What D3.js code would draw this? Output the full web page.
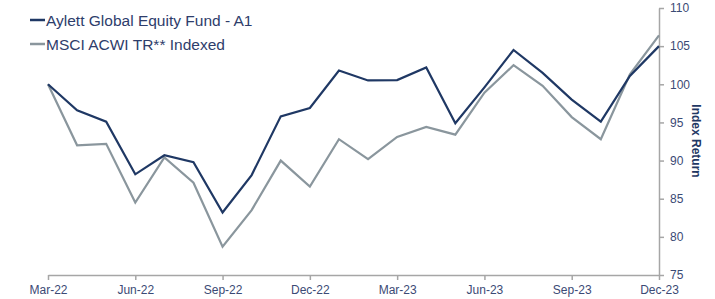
<!DOCTYPE html>
<html>
<head>
<meta charset="utf-8">
<script src="https://cdn.jsdelivr.net/npm/d3@7"></script>
<style>
  body { margin: 0; background: #fff; }
  svg { font-family: Arial, "Liberation Sans", sans-serif; }
</style>
</head>
<body>
<svg id="chart" width="715" height="299"></svg>
<script>
// months Mar-22 .. Dec-23
var months = ["Mar-22","Apr-22","May-22","Jun-22","Jul-22","Aug-22","Sep-22","Oct-22","Nov-22","Dec-22",
  "Jan-23","Feb-23","Mar-23","Apr-23","May-23","Jun-23","Jul-23","Aug-23","Sep-23","Oct-23","Nov-23","Dec-23"];
var fundValues = [100, 96.6, 95.1, 88.2, 90.7, 89.8, 83.2, 88.1, 95.8, 96.9,
  101.8, 100.5, 100.55, 102.2, 94.9, 99.6, 104.5, 101.5, 98.0, 95.1, 101.1, 105.0];
var msciValues = [100, 92.0, 92.2, 84.5, 90.4, 87.1, 78.7, 83.5, 90.0, 86.6,
  92.8, 90.2, 93.1, 94.4, 93.4, 98.9, 102.5, 99.8, 95.7, 92.8, 101.3, 106.4];
var xTickLabels = ["Mar-22","Jun-22","Sep-22","Dec-22","Mar-23","Jun-23","Sep-23","Dec-23"];
var yTicks = [75, 80, 85, 90, 95, 100, 105, 110];
var seriesNames = ["Aylett Global Equity Fund - A1", "MSCI ACWI TR** Indexed"];
var seriesColors = ["#1f3864", "#8a969d"];

var svg = d3.select("#chart");
var plotLeft = 48, plotRight = 659, plotTop = 8, plotBottom = 275;

var x = d3.scalePoint().domain(months).range([plotLeft, plotRight]);
var y = d3.scaleLinear().domain([75, 110]).range([plotBottom, plotTop]);

var axisColor = "#a6a6a6", labelColor = "#3b4a75";

// x axis
var xAxis = svg.append("g")
  .attr("transform", "translate(0," + plotBottom + ")")
  .call(d3.axisBottom(x).tickValues(xTickLabels).tickSize(5).tickSizeOuter(0).tickPadding(5));
xAxis.select(".domain").attr("stroke", axisColor).attr("stroke-width", 1.5);
xAxis.selectAll(".tick line").attr("stroke", axisColor).attr("stroke-width", 1.5);
xAxis.selectAll(".tick text").attr("fill", labelColor).attr("font-size", 12)
  .attr("font-family", "Arial, 'Liberation Sans', sans-serif");

// y axis on the right
var yAxis = svg.append("g")
  .attr("transform", "translate(" + plotRight + ",0)")
  .call(d3.axisRight(y).tickValues(yTicks).tickSize(5).tickSizeOuter(0).tickPadding(6));
yAxis.select(".domain").attr("stroke", axisColor).attr("stroke-width", 1.5);
yAxis.selectAll(".tick line").attr("stroke", axisColor).attr("stroke-width", 1.5);
yAxis.selectAll(".tick text").attr("fill", labelColor).attr("font-size", 12)
  .attr("font-family", "Arial, 'Liberation Sans', sans-serif");

svg.append("text")
  .attr("transform", "translate(692,141) rotate(90)")
  .attr("text-anchor", "middle")
  .attr("font-size", 12)
  .attr("font-weight", "bold")
  .attr("fill", "#1f3864")
  .text("Index Return");

// lines
var line = d3.line()
  .x(function(d, i) { return x(months[i]); })
  .y(function(d) { return y(d); });

[msciValues, fundValues].forEach(function(vals, k) {
  svg.append("path")
    .datum(vals)
    .attr("fill", "none")
    .attr("stroke", seriesColors[1 - k])
    .attr("stroke-width", 2.2)
    .attr("stroke-linejoin", "miter")
    .attr("d", line);
});

// legend
var legend = svg.append("g");
seriesNames.forEach(function(name, i) {
  var ly = 20 + i * 24;
  legend.append("line")
    .attr("x1", 30).attr("x2", 45)
    .attr("y1", ly).attr("y2", ly)
    .attr("stroke", seriesColors[i]).attr("stroke-width", 2.5);
  legend.append("text")
    .attr("x", 46).attr("y", ly + 6)
    .attr("font-size", 15.5)
    .attr("fill", "#2e3d6b")
    .text(name);
});
</script>
</body>
</html>
